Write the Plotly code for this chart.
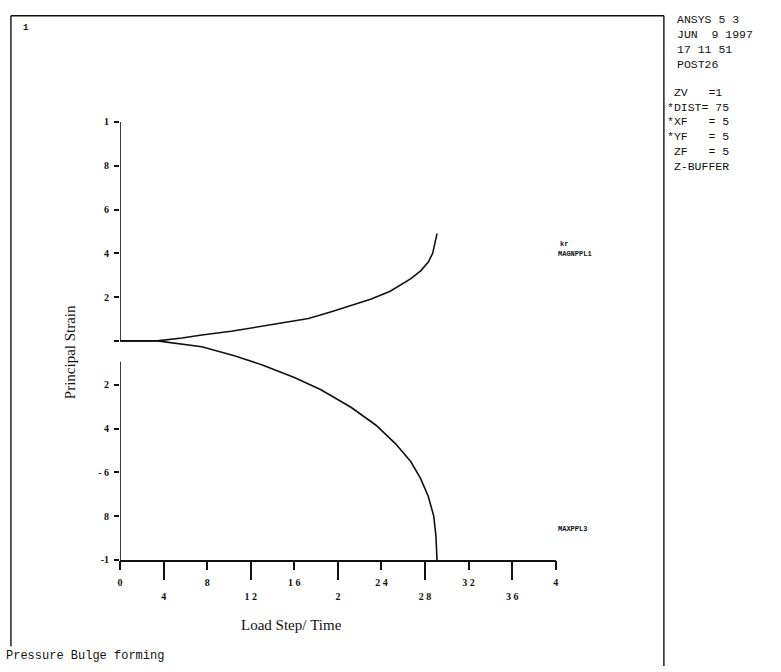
import plotly.graph_objects as go

W, H = 781, 672

# Principal strain histories versus load step / time
upper_x = [0.0, 0.34, 0.57, 0.75, 1.02, 1.30, 1.57, 1.73, 1.94, 2.12, 2.30, 2.48, 2.67, 2.76, 2.83, 2.87, 2.89, 2.91]
upper_y = [0.0, 0.0, 0.013, 0.027, 0.044, 0.067, 0.089, 0.102, 0.133, 0.160, 0.190, 0.227, 0.284, 0.320, 0.360, 0.400, 0.444, 0.490]

lower_x = [0.0, 0.34, 0.75, 1.05, 1.30, 1.60, 1.84, 2.12, 2.35, 2.53, 2.67, 2.76, 2.83, 2.88, 2.90, 2.91]
lower_y = [0.0, 0.0, -0.027, -0.068, -0.109, -0.167, -0.222, -0.303, -0.385, -0.470, -0.552, -0.629, -0.710, -0.800, -0.890, -1.0]

upper_label = "MAGNPPL1"
lower_label = "MAXPPL3"

# Axis ticks (labels as printed by the plotter)
x_long_vals = [0.4, 1.2, 2.0, 2.8, 3.6]
x_long_text = ["4", "1 2", "2", "2 8", "3 6"]
x_short_vals = [0.0, 0.8, 1.6, 2.4, 3.2, 4.0]
x_short_text = ["0", "8", "1 6", "2 4", "3 2", "4"]
y_vals = [1.0, 0.8, 0.6, 0.4, 0.2, 0.0, -0.2, -0.4, -0.6, -0.8, -1.0]
y_text = ["1", "8", "6", "4", "2", "", "2", "4", "- 6", "8", "-1"]

header_lines = ["ANSYS 5 3", "JUN  9 1997", "17 11 51", "POST26"]
view_lines = [" ZV   =1", "*DIST= 75", "*XF   = 5", "*YF   = 5", " ZF   = 5", " Z-BUFFER"]


def px(x):
    return x / W


def py(y):
    return 1 - y / H


fig = go.Figure()
line = dict(color="#111111", width=1.6)
fig.add_trace(go.Scatter(x=upper_x, y=upper_y, mode="lines", line=line, hoverinfo="skip"))
fig.add_trace(go.Scatter(x=lower_x, y=lower_y, mode="lines", line=line, hoverinfo="skip"))

tickfont = dict(family="Liberation Serif", size=10, color="#111111", weight="bold")

fig.update_layout(
    width=W, height=H,
    margin=dict(l=0, r=0, t=0, b=0),
    paper_bgcolor="white", plot_bgcolor="white",
    showlegend=False,
    xaxis=dict(
        domain=[px(118), px(557)], range=[0, 4], anchor="y",
        tickmode="array", tickvals=x_long_vals, ticktext=x_long_text,
        ticks="outside", ticklen=18, tickwidth=1.5, tickcolor="#111111",
        ticklabelstandoff=8,
        showline=True, linecolor="#111111", linewidth=1.6,
        showgrid=False, zeroline=False, tickfont=tickfont,
    ),
    xaxis2=dict(
        domain=[px(118), px(557)], range=[0, 4], anchor="y", overlaying="x", side="bottom",
        tickmode="array", tickvals=x_short_vals, ticktext=x_short_text,
        ticks="outside", ticklen=9, tickwidth=1.5, tickcolor="#111111",
        ticklabelstandoff=4,
        showline=False, showgrid=False, zeroline=False, tickfont=tickfont,
    ),
    yaxis=dict(
        domain=[py(564), py(118)], range=[-1, 1], anchor="x",
        tickmode="array", tickvals=y_vals, ticktext=y_text,
        ticks="outside", ticklen=5, tickwidth=1.5, tickcolor="#111111",
        ticklabelstandoff=3,
        showline=False, showgrid=False, zeroline=False, tickfont=tickfont,
    ),
)
# invisible trace so the secondary x axis is drawn
fig.add_trace(go.Scatter(x=[0, 4], y=[0, 0], xaxis="x2", mode="markers",
                         marker=dict(opacity=0), hoverinfo="skip"))

# vertical axis line, broken just below zero
ax = dict(type="line", xref="x", yref="y", line=dict(color="#111111", width=1.6))
fig.add_shape(**ax, x0=0, x1=0, y0=0, y1=1)
fig.add_shape(**ax, x0=0, x1=0, y0=-0.095, y1=-1)

# window frame
fr = dict(type="line", xref="paper", yref="paper", line=dict(color="#111111", width=1.4))
fig.add_shape(**fr, x0=px(8), x1=px(666), y0=py(10), y1=py(10))
fig.add_shape(**fr, x0=px(8), x1=px(8), y0=py(10), y1=py(652))
fig.add_shape(**fr, x0=px(666), x1=px(666), y0=py(10), y1=py(672))

mono = "Liberation Mono"
serif = "Liberation Serif"


def note(text, x, y, size, family=mono, xanchor="left", angle=0, bold=False):
    t = text.replace(" ", "\u00a0")
    if bold:
        t = "<b>" + t + "</b>"
    fig.add_annotation(text=t, x=px(x), y=py(y), xref="paper", yref="paper",
                       xanchor=xanchor, yanchor="middle", showarrow=False,
                       textangle=angle, font=dict(family=family, size=size, color="#111111"))


note("1", 18, 22, 9, bold=True)
for i, s in enumerate(header_lines):
    note(s, 677, 14 + i * 15.3, 11.5)
for i, s in enumerate(view_lines):
    note(s, 667, 88 + i * 15, 11.5)

note("kr", 559, 242, 7, bold=True)
note(upper_label, 557, 252, 7, bold=True)
note(lower_label, 557, 532, 7, bold=True)

note("Pressure Bulge forming", 1, 662, 12)
note("Load Step/ Time", 291, 630, 15, family=serif, xanchor="center")
note("Principal Strain", 67, 352, 15, family=serif, xanchor="center", angle=-90)

fig.write_html("out.html")
